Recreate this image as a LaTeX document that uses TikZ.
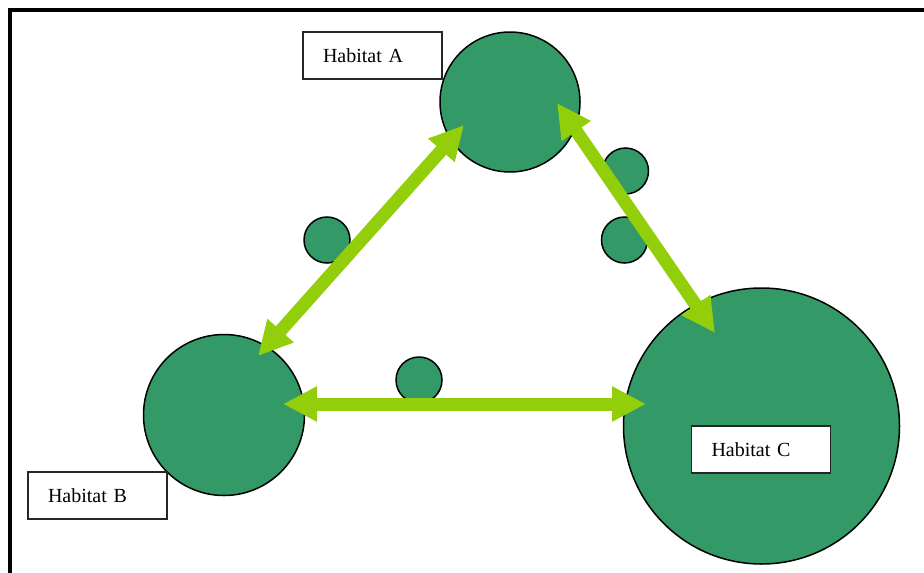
\documentclass[tikz,border=0pt]{standalone}
\usepackage{fontspec}
\setmainfont{Liberation Serif}
\usetikzlibrary{arrows.meta}
\definecolor{seagreen}{RGB}{51,153,102}
\definecolor{lgreen}{RGB}{146,206,10}
\begin{document}
\begin{tikzpicture}[x=1pt,y=-1pt,
  habitat/.style={circle, draw=black, line width=1.5pt, fill=seagreen, inner sep=0pt},
  patch/.style={circle, draw=black, line width=1.5pt, fill=seagreen, inner sep=0pt, minimum size=46pt},
  labelbox/.style={draw=black!85, line width=1.5pt, fill=white, minimum height=47pt,
    text width=99pt, inner xsep=20pt, inner ysep=0pt, align=left,
    font=\fontsize{20}{24}\selectfont},
  link/.style={draw=lgreen, line width=13pt,
    {Triangle[length=34pt,width=33pt]}-{Triangle[length=34pt,width=33pt]}}]
\useasboundingbox (0,0) rectangle (924,573);
% frame (top and left edges)
\draw[line width=3.5pt] (10,573) -- (10,10) -- (924,10);
% habitats
\node[habitat, minimum size=140pt] (A) at (510,102) {};
\node[habitat, minimum size=161pt] (B) at (224,415) {};
\node[habitat, minimum size=276pt] (C) at (761.5,426) {};
% stepping-stone patches
\node[patch] (s1) at (327,240) {};
\node[patch] (s2) at (625.5,171) {};
\node[patch] (s3) at (624.5,240) {};
\node[patch] (s4) at (419,380) {};
% arrow ends
\coordinate (abA) at (464,125);
\coordinate (abB) at (258,356);
\coordinate (acA) at (557,103);
\coordinate (acC) at (715,333);
\coordinate (bcB) at (283,404);
\coordinate (bcC) at (646,404);
% connectors
\draw[link] (abB) -- (abA);
\draw[link] (acA) -- (acC);
\draw[link] (bcB) -- (bcC);
% labels
\node[labelbox] (la) at (372.5,55.5) {Habitat A};
\node[labelbox] (lb) at (97.5,495.5) {Habitat B};
\node[labelbox] (lc) at (761,449.5) {Habitat C};
\end{tikzpicture}
\end{document}
